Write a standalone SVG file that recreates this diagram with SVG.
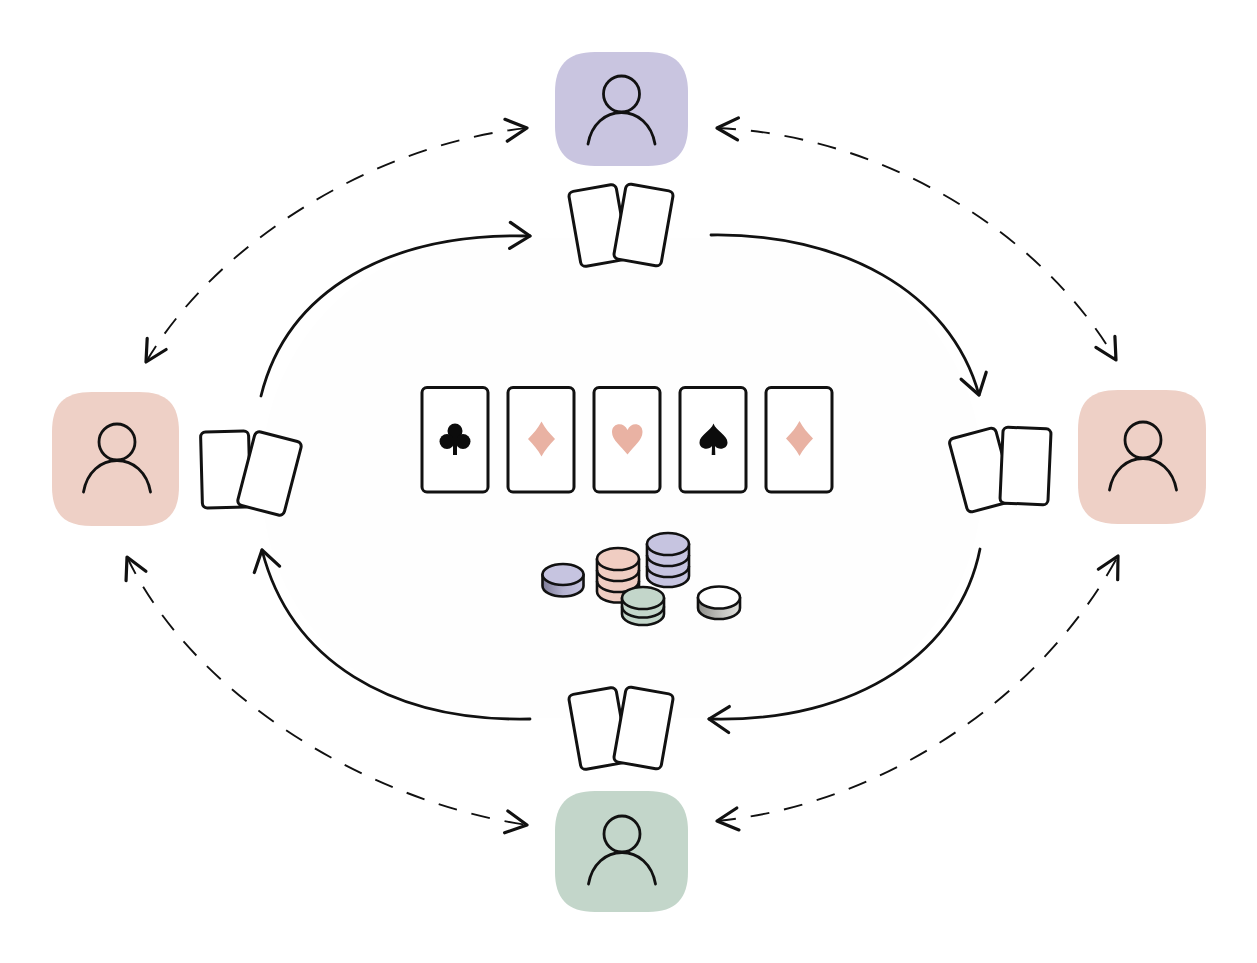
<svg xmlns="http://www.w3.org/2000/svg" width="1257" height="963" viewBox="0 0 1257 963">
  <style>
    .tile { stroke: none; }
    .person { fill: none; stroke: #111; stroke-width: 2.8; stroke-linecap: round; }
    .card { fill: #fff; stroke: #111; stroke-width: 3; }
    .flow { fill: none; stroke: #111; stroke-width: 2.8; stroke-linecap: round; }
    .talk { fill: none; stroke: #111; stroke-width: 1.9; stroke-dasharray: 19 15; }
    .head { fill: none; stroke: #111; stroke-linecap: round; stroke-linejoin: round; }
    .chip { stroke: #111; stroke-width: 2.6; stroke-linejoin: round; }
    .rim { fill: none; stroke: #111; stroke-width: 2.6; }
    .dark { fill: #0c0c0c; }
    .rose { fill: #e9b2a3; }
  </style>
  <defs>
    <marker id="solidHead" markerUnits="userSpaceOnUse" viewBox="-30 -20 40 40" refX="0" refY="0" markerWidth="40" markerHeight="40" orient="auto-start-reverse" overflow="visible">
      <path class="head" stroke-width="3.200" d="M-20 -13 L0 0 L-20 13"/>
    </marker>
    <marker id="dashHead" markerUnits="userSpaceOnUse" viewBox="-30 -20 40 40" refX="0" refY="0" markerWidth="40" markerHeight="40" orient="auto-start-reverse" overflow="visible">
      <path class="head" stroke-width="3.200" d="M-21 -11 L0 0 L-21 11"/>
    </marker>
    <linearGradient id="sidePurple" x1="0" x2="1" y1="0" y2="0">
      <stop offset="0" stop-color="#7f7d98"/><stop offset="0.5" stop-color="#b4b2cf"/><stop offset="1" stop-color="#c6c4e0"/>
    </linearGradient>
    <linearGradient id="sideGrey" x1="0" x2="1" y1="0" y2="0">
      <stop offset="0" stop-color="#8f8f8b"/><stop offset="0.6" stop-color="#c6c6c2"/><stop offset="1" stop-color="#dededa"/>
    </linearGradient>
    <rect id="playing" class="card" x="-24" y="-38" width="48" height="76" rx="5"/>
    <path id="bust" class="person" d="M-33.500 50 C-30 30 -16 18.500 0 18.500 C16 18.500 30 30 33.500 50"/>
    <path id="diamond" class="rose" d="M0 -17.500 C3.500 -11 8 -5.500 13.500 0 C8 5.500 3.500 11 0 17.500 C-3.500 11 -8 5.500 -13.500 0 C-8 -5.500 -3.500 -11 0 -17.500 Z"/>
  </defs>

  <rect width="1257" height="963" fill="#ffffff"/>
  <rect x="262" y="238" width="720" height="480" rx="235" fill="#fefefe"/>

  <g id="connectors">
    <path class="flow" marker-end="url(#solidHead)" d="M261 396 C 287 290 390 232 530 236"/>
    <path class="flow" marker-end="url(#solidHead)" d="M711 235 C 840 233 950 290 979 395"/>
    <path class="flow" marker-end="url(#solidHead)" d="M980 549 C 960 650 860 723 709 719"/>
    <path class="flow" marker-end="url(#solidHead)" d="M530 719 C 390 722 290 660 262 550"/>
    <path class="talk" marker-start="url(#dashHead)" marker-end="url(#dashHead)" d="M146 362 C 215 245 370 145 527 128"/>
    <path class="talk" marker-start="url(#dashHead)" marker-end="url(#dashHead)" d="M717 128 C 880 135 1040 230 1116 360"/>
    <path class="talk" marker-start="url(#dashHead)" marker-end="url(#dashHead)" d="M717 821 C 880 805 1040 700 1118 556"/>
    <path class="talk" marker-start="url(#dashHead)" marker-end="url(#dashHead)" d="M127 557 C 190 690 360 800 527 825"/>
  </g>

  <g id="player-top">
    <path class="tile" fill="#c9c5e0" d="M595 52 H648 C676 52 688 66 688 92 V126 C688 152 676 166 648 166 H595 C567 166 555 152 555 126 V92 C555 66 567 52 595 52 Z"/>
    <circle class="person" cx="621.500" cy="94" r="18"/>
    <use href="#bust" x="621.500" y="94"/>
  </g>
  <g id="player-left">
    <path class="tile" fill="#eed0c6" d="M92 392 H139 C167 392 179 404 179 432 V486 C179 514 167 526 139 526 H92 C64 526 52 514 52 486 V432 C52 404 64 392 92 392 Z"/>
    <circle class="person" cx="117" cy="442" r="18"/>
    <use href="#bust" x="117" y="442"/>
  </g>
  <g id="player-right">
    <path class="tile" fill="#eed0c6" d="M1118 390 H1166 C1194 390 1206 402 1206 430 V484 C1206 512 1194 524 1166 524 H1118 C1090 524 1078 512 1078 484 V430 C1078 402 1090 390 1118 390 Z"/>
    <circle class="person" cx="1143" cy="440" r="18"/>
    <use href="#bust" x="1143" y="440"/>
  </g>
  <g id="player-bottom">
    <path class="tile" fill="#c3d6ca" d="M595 791 H648 C676 791 688 805 688 831 V872 C688 898 676 912 648 912 H595 C567 912 555 898 555 872 V831 C555 805 567 791 595 791 Z"/>
    <circle class="person" cx="622" cy="834" r="18"/>
    <use href="#bust" x="622" y="834"/>
  </g>

  <g id="hand-top">
    <use href="#playing" transform="translate(598.500 225.500) rotate(-10)"/>
    <use href="#playing" transform="translate(643.500 225) rotate(10)"/>
  </g>
  <g id="hand-left">
    <use href="#playing" transform="translate(225.500 469.500) rotate(-1.500)"/>
    <use href="#playing" transform="translate(269.500 473.500) rotate(14.500)"/>
  </g>
  <g id="hand-right">
    <use href="#playing" transform="translate(981.500 470) rotate(-15)"/>
    <use href="#playing" transform="translate(1025.500 466) rotate(2.500)"/>
  </g>
  <g id="hand-bottom">
    <use href="#playing" transform="translate(598.500 728.500) rotate(-10)"/>
    <use href="#playing" transform="translate(643.500 728) rotate(10)"/>
  </g>

  <g id="board">
    <g id="card-club">
      <rect class="card" x="422" y="387.500" width="66" height="104.500" rx="5"/>
      <circle class="dark" cx="455" cy="431" r="7.500"/>
      <circle class="dark" cx="447" cy="441.500" r="7.500"/>
      <circle class="dark" cx="463" cy="441.500" r="7.500"/>
      <path class="dark" d="M453 433 H457 V455 H453 Z"/>
    </g>
    <g id="card-diamond-a">
      <rect class="card" x="508" y="387.500" width="66" height="104.500" rx="5"/>
      <use href="#diamond" x="541.500" y="439"/>
    </g>
    <g id="card-heart">
      <rect class="card" x="594" y="387.500" width="66" height="104.500" rx="5"/>
      <path class="rose" d="M627.500 454.500 C 621 446 612 440 612 432 C 612 423 624 421.500 627.500 430 C 631 421.500 642.500 423 642.500 432 C 642.500 440 634 446 627.500 454.500 Z"/>
    </g>
    <g id="card-spade">
      <rect class="card" x="680" y="387.500" width="66" height="104.500" rx="5"/>
      <path class="dark" d="M713.500 423.500 C 716 431 727.500 435 727.500 442.500 C 727.500 449.500 718 450.500 715 446 L715.300 455 H711.700 L712 446 C 709 450.500 699.500 449.500 699.500 442.500 C 699.500 435 711 431 713.500 423.500 Z"/>
    </g>
    <g id="card-diamond-b">
      <rect class="card" x="766" y="387.500" width="66" height="104.500" rx="5"/>
      <use href="#diamond" x="799.500" y="438.500"/>
    </g>
  </g>

  <g id="chips">
    <g id="chip-single">
      <path class="chip" fill="url(#sidePurple)" d="M542.500 574.500 V586 A20.500 10.500 0 0 0 583.500 586 V574.500 Z"/>
      <ellipse class="chip" cx="563" cy="574.500" rx="20.500" ry="10.500" fill="#c6c4e0"/>
    </g>
    <g id="stack-rose">
      <path class="chip" fill="#f0cdc2" d="M597 559 V591.500 A21 11 0 0 0 639 591.500 V559 Z"/>
      <path class="rim" d="M597 570 A21 11 0 0 0 639 570 M597 581 A21 11 0 0 0 639 581"/>
      <ellipse class="chip" cx="618" cy="559" rx="21" ry="11" fill="#f0cdc2"/>
    </g>
    <g id="stack-purple">
      <path class="chip" fill="#c6c4e0" d="M647 544 V576 A21 11 0 0 0 689 576 V544 Z"/>
      <path class="rim" d="M647 555 A21 11 0 0 0 689 555 M647 566 A21 11 0 0 0 689 566"/>
      <ellipse class="chip" cx="668" cy="544" rx="21" ry="11" fill="#c6c4e0"/>
    </g>
    <g id="stack-green">
      <path class="chip" fill="#c3d6ca" d="M622 598 V614 A21 11 0 0 0 664 614 V598 Z"/>
      <path class="rim" d="M622 606.500 A21 11 0 0 0 664 606.500"/>
      <ellipse class="chip" cx="643" cy="598" rx="21" ry="11" fill="#c3d6ca"/>
    </g>
    <g id="chip-white">
      <path class="chip" fill="url(#sideGrey)" d="M698 597.500 V608 A21 11 0 0 0 740 608 V597.500 Z"/>
      <ellipse class="chip" cx="719" cy="597.500" rx="21" ry="11" fill="#ffffff"/>
    </g>
  </g>
</svg>
